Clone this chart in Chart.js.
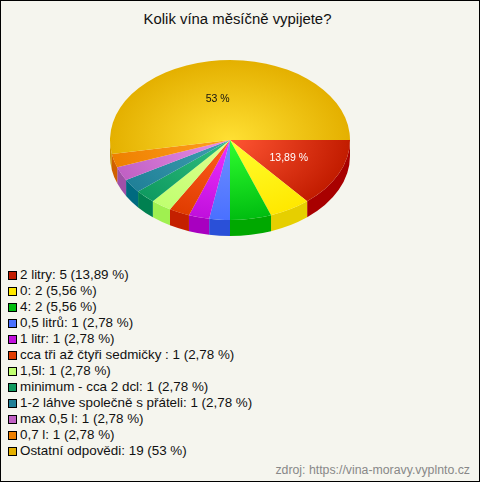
<!DOCTYPE html>
<html>
<head>
<meta charset="utf-8">
<script src="https://cdn.jsdelivr.net/npm/chart.js@4"></script>
<style>
html, body { margin: 0; padding: 0; }
#frame { position: relative; width: 480px; height: 482px; box-sizing: border-box; background: #f5f5ee; border: 1px solid #000; overflow: hidden; font-family: "Liberation Sans", Arial, sans-serif; color: #111; }
#title { position: absolute; left: 0; top: 10px; width: 473px; text-align: center; font-size: 14.9px; }
#pie { position: absolute; left: 109px; top: 19px; }
#legend { position: absolute; left: 7px; top: 266px; font-size: 13.4px; }
#legend div { height: 16px; line-height: 16px; white-space: nowrap; }
#legend span { display: inline-block; width: 7px; height: 7px; border: 1px solid #000; margin-right: 3px; vertical-align: -0.5px; }
#source { position: absolute; right: 9px; top: 462px; font-size: 12.3px; color: #888; }
</style>
</head>
<body>
<div id="frame">
  <div id="title">Kolik vína měsíčně vypijete?</div>
  <canvas id="pie" width="240" height="240"></canvas>
  <div id="legend"></div>
  <div id="source">zdroj: https://vina-moravy.vyplnto.cz</div>
</div>
<script>
const categories = ["2 litry", "0", "4", "0,5 litrů", "1 litr", "cca tři až čtyři sedmičky ", "1,5l", "minimum - cca 2 dcl", "1-2 láhve společně s přáteli", "max 0,5 l", "0,7 l", "Ostatní odpovědi"];
const counts = [5, 2, 2, 1, 1, 1, 1, 1, 1, 1, 1, 19];
const percents = ["13,89", "5,56", "5,56", "2,78", "2,78", "2,78", "2,78", "2,78", "2,78", "2,78", "2,78", "53"];
const rimColors = ["#c21c00", "#ffe800", "#00bd10", "#4a70ff", "#c010dc", "#e03c00", "#c0ff70", "#0f9a60", "#208098", "#c060c4", "#ee8000", "#e4b000"];
const centerColors = ["#ff5533", "#ffff30", "#30ff30", "#7090ff", "#f030ff", "#ff6020", "#e0ff90", "#30c080", "#40a0b0", "#e890e8", "#ffa020", "#ffe033"];
const sideColors = ["#a80000", "#e6cf00", "#00a800", "#2a50d8", "#a800c0", "#c42000", "#a0f050", "#008050", "#006a80", "#a050a8", "#d06000", "#c89000"];
const sliceLabels = ["13,89 %", null, null, null, null, null, null, null, null, null, null, "53 %"];

const squash = 2 / 3;
const depth = 16;

// side wall + squashed top face
const tilt = {
  id: "tilt",
  beforeDatasetsDraw(chart) {
    const c = chart.ctx;
    chart.getDatasetMeta(0).data.forEach((arc, i) => {
      const a = Math.max(arc.startAngle, 0);
      const b = Math.min(arc.endAngle, Math.PI);
      if (b <= a) return;
      const ry = arc.outerRadius * squash;
      c.beginPath();
      c.ellipse(arc.x, arc.y, arc.outerRadius, ry, 0, a, b);
      c.ellipse(arc.x, arc.y + depth, arc.outerRadius, ry, 0, b, a, true);
      c.closePath();
      c.fillStyle = sideColors[i];
      c.fill();
    });
    const first = chart.getDatasetMeta(0).data[0];
    c.save();
    c.translate(first.x, first.y);
    c.scale(1, squash);
    c.translate(-first.x, -first.y);
  },
  afterDatasetsDraw(chart) {
    const c = chart.ctx;
    c.restore();
    c.font = "10.5px 'Liberation Sans', Arial, sans-serif";
    c.textAlign = "center";
    c.textBaseline = "middle";
    chart.getDatasetMeta(0).data.forEach((arc, i) => {
      if (!sliceLabels[i]) return;
      const mid = (arc.startAngle + arc.endAngle) / 2;
      const r = arc.outerRadius * (i === 0 ? 0.54 : 0.51);
      // the big slice label sits a little left of its mid line in the original
      const nudge = i === 0 ? 0 : -7;
      c.fillStyle = i === 0 ? "#fff" : "#111";
      c.fillText(sliceLabels[i], arc.x + Math.cos(mid) * r + nudge, arc.y + Math.sin(mid) * r * squash);
    });
  }
};

new Chart(document.getElementById("pie"), {
  type: "pie",
  data: {
    labels: categories,
    datasets: [{
      data: counts,
      borderWidth: 0,
      backgroundColor(context) {
        const area = context.chart.chartArea;
        if (!area) return rimColors[context.dataIndex];
        const cx = (area.left + area.right) / 2;
        const cy = (area.top + area.bottom) / 2;
        const g = context.chart.ctx.createRadialGradient(cx, cy, 0, cx, cy, area.width / 2);
        g.addColorStop(0, centerColors[context.dataIndex]);
        g.addColorStop(1, rimColors[context.dataIndex]);
        return g;
      }
    }]
  },
  options: {
    responsive: false,
    animation: false,
    events: [],
    rotation: 90,
    layout: { padding: 0 },
    plugins: { legend: { display: false }, tooltip: { enabled: false } }
  },
  plugins: [tilt]
});

categories.forEach((name, i) => {
  document.getElementById("legend").innerHTML +=
    `<div><span style="background:${rimColors[i]}"></span>${name}: ${counts[i]} (${percents[i]} %)</div>`;
});
</script>
</body>
</html>
